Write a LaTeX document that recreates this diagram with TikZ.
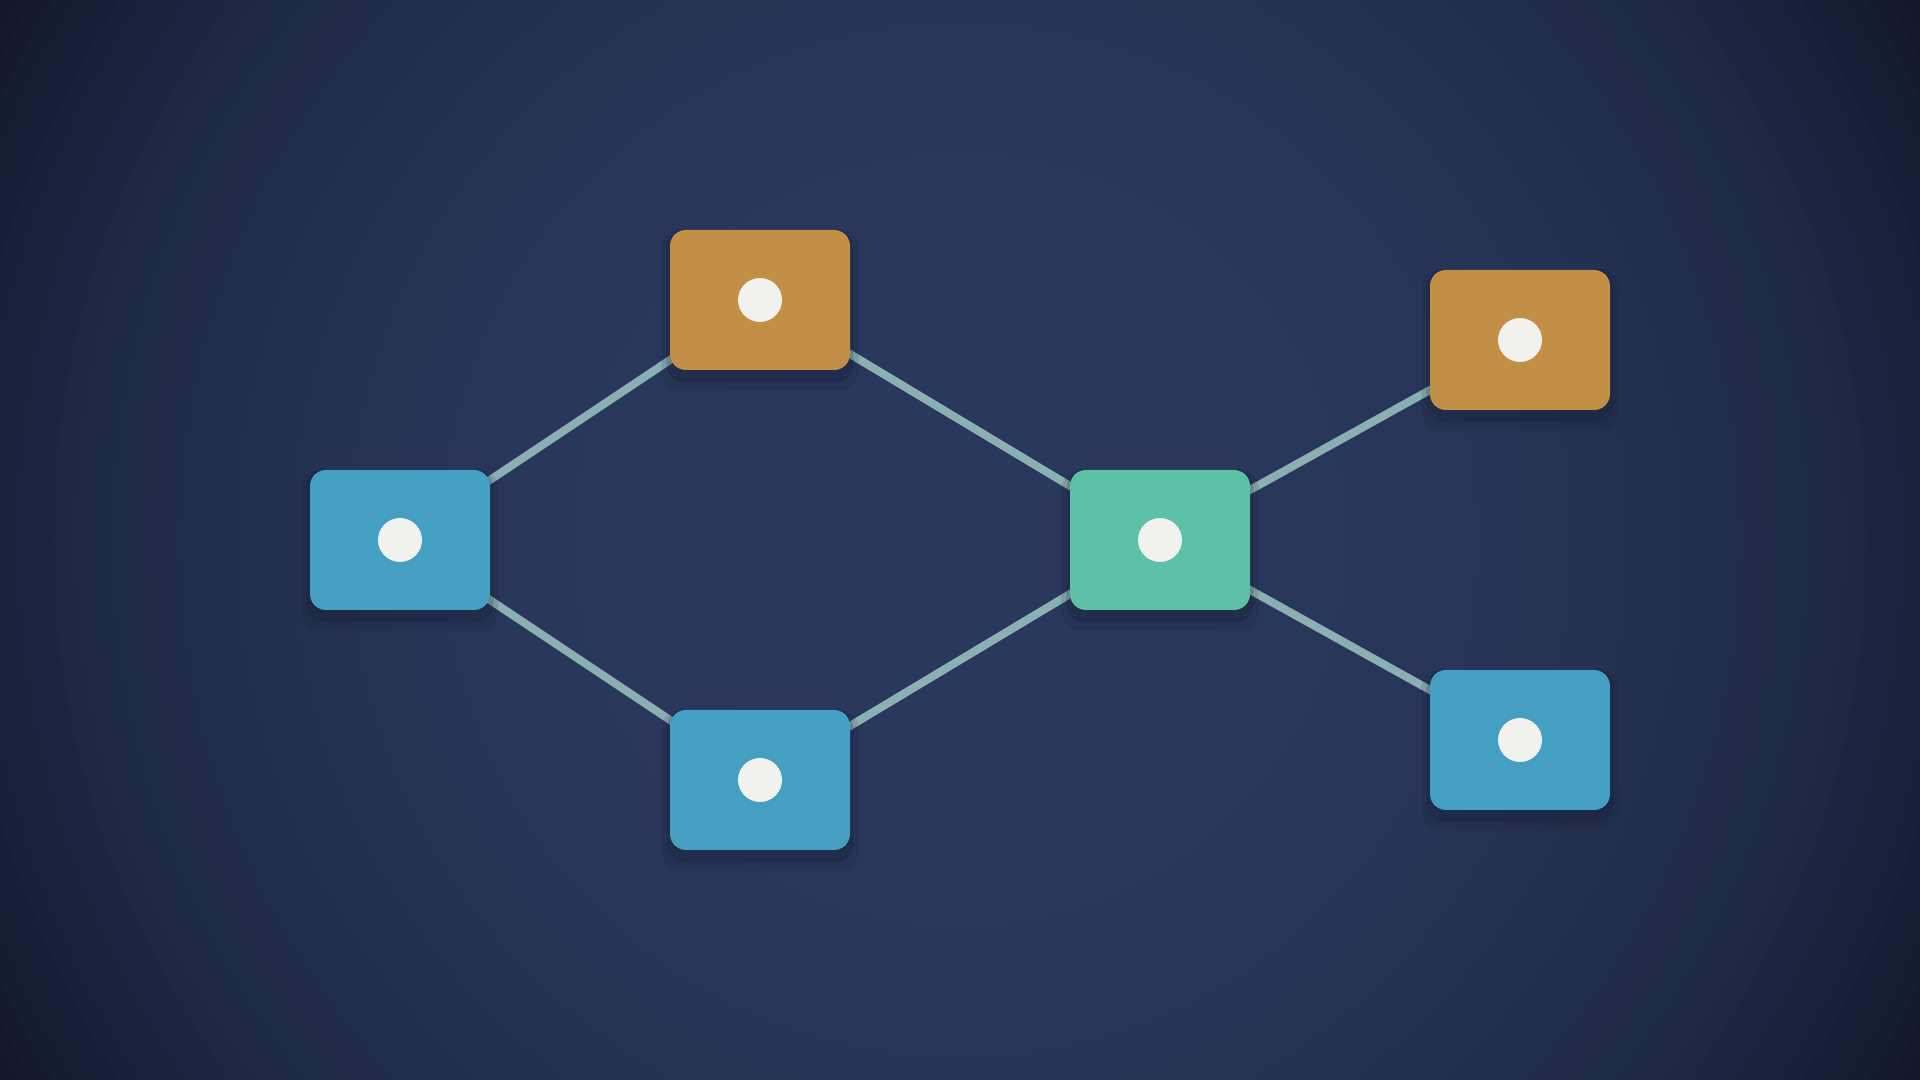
\documentclass[tikz,border=0pt]{standalone}
\usepackage{tikz}
\usetikzlibrary{backgrounds}
\definecolor{tileblue}{HTML}{449FC2}
\definecolor{tileorange}{HTML}{C28F47}
\definecolor{tilegreen}{HTML}{5DC1A7}
\definecolor{linkcol}{HTML}{8AB0B2}
\definecolor{dotcol}{HTML}{F1F1EE}
\definecolor{shadowcol}{HTML}{111727}
\definecolor{bgone}{HTML}{2A385D}
\definecolor{bgfive}{HTML}{12182B}
\pgfdeclarelayer{bottom}
\pgfsetlayers{bottom,background,main}

\begin{document}
\begin{tikzpicture}[
	tile/.style={rounded corners=0.16cm, minimum width=1.8cm, minimum height=1.4cm, inner sep=0pt},
	link/.style={line width=0.08cm, color=linkcol},
	soft/.style={fill=shadowcol, rounded corners=0.2cm, fill opacity=#1},
	soft/.default=0.2
	]
			%%%%% START %%%%%
			
			\useasboundingbox (0, 0) rectangle (19.2, 10.8);
			\begin{pgfonlayer}{bottom}
				\begin{scope}
					\clip (0, 0) rectangle (19.2, 10.8);
					% vignette, darker towards the corners
					\foreach \i in {0,...,59} {
						\pgfmathsetmacro{\rr}{11.1*(1-\i/60)}
						\pgfmathsetmacro{\pp}{100*(1-(\rr/11.1)^3)}
						\fill[bgone!\pp!bgfive] (9.6, 5.4) circle (\rr);
					}
				\end{scope}
			\end{pgfonlayer}
			
			\node[tile, fill=tileblue] (ta) at (4.0, 5.4) {};
			\node[tile, fill=tileorange] (tb) at (7.6, 7.8) {};
			\node[tile, fill=tileblue] (tc) at (7.6, 3.0) {};
			\node[tile, fill=tilegreen] (td) at (11.6, 5.4) {};
			\node[tile, fill=tileorange] (te) at (15.2, 7.4) {};
			\node[tile, fill=tileblue] (tf) at (15.2, 3.4) {};
			
			\foreach \t in {ta, tb, tc, td, te, tf}
				\fill[dotcol] (\t.center) circle (0.22);
			
			\begin{pgfonlayer}{background}
				\draw[link] (ta.center) -- (tb.center);
				\draw[link] (ta.center) -- (tc.center);
				\draw[link] (tb.center) -- (td.center);
				\draw[link] (tc.center) -- (td.center);
				\draw[link] (td.center) -- (te.center);
				\draw[link] (td.center) -- (tf.center);
				% soft shadow under the tiles
				\foreach \t in {ta, tb, tc, td, te, tf} {
					\fill[soft=0.12] ([shift={(-0.08,-0.2)}]\t.south west) rectangle ([shift={(0.08,0.0)}]\t.north east);
					\fill[soft=0.18] ([shift={(-0.03,-0.12)}]\t.south west) rectangle ([shift={(0.03,0.0)}]\t.north east);
				}
			\end{pgfonlayer}
			
			%%%%% END %%%%%
		\end{tikzpicture}
\end{document}
